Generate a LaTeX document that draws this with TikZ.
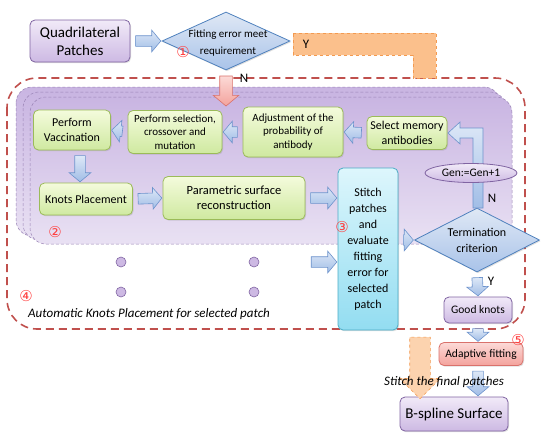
\documentclass[tikz,border=0pt]{standalone}
\usepackage{fontspec}
\setmainfont{Carlito}
\newfontfamily\circfont{DejaVu Sans}
\usetikzlibrary{calc,shapes.geometric,shapes.arrows,shadows}

\definecolor{greenedge}{HTML}{9BBB59}
\definecolor{greentop}{HTML}{F4FBDC}
\definecolor{greenbot}{HTML}{CFE9A0}
\definecolor{purpedge}{HTML}{8064A2}
\definecolor{purptop}{HTML}{F1EAF8}
\definecolor{purpbot}{HTML}{CDB9E3}
\definecolor{cyanedge}{HTML}{4BACC6}
\definecolor{cyantop}{HTML}{DDF6FC}
\definecolor{cyanbot}{HTML}{93DDF1}
\definecolor{pinkedge}{HTML}{D9716B}
\definecolor{pinktop}{HTML}{FCDAD7}
\definecolor{pinkbot}{HTML}{F3A29C}
\definecolor{arredge}{HTML}{6D93CC}
\definecolor{arrtop}{HTML}{DDE8F7}
\definecolor{arrbot}{HTML}{A1BDE6}
\definecolor{diaedge}{HTML}{4F81BD}
\definecolor{diatop}{HTML}{DFE8F5}
\definecolor{diabot}{HTML}{A9C3E9}
\definecolor{orfill}{HTML}{FBC08C}
\definecolor{oredge}{HTML}{F39A50}
\definecolor{loopred}{HTML}{C0504D}
\definecolor{numred}{HTML}{FF4040}
\definecolor{paneltop}{HTML}{C9B5E2}
\definecolor{panelbot}{HTML}{E9E1F3}

\tikzset{
  box/.style={rounded corners=5pt, line width=0.8pt, align=center, inner sep=2pt,
    drop shadow={opacity=0.25, shadow xshift=1pt, shadow yshift=-1.2pt}},
  greenbox/.style={box, draw=greenedge, top color=greentop, bottom color=greenbot,
    font=\fontsize{12}{14.5}\selectfont},
  purpbox/.style={box, draw=purpedge, top color=purptop, bottom color=purpbot,
    font=\fontsize{12}{14.5}\selectfont},
  decision/.style={diamond, draw=diaedge, line width=0.8pt, top color=diatop,
    bottom color=diabot, inner sep=0pt,
    drop shadow={opacity=0.25, shadow xshift=1pt, shadow yshift=-1.2pt}},
  decisiontext/.style={align=center, inner sep=0pt},
  blkarr/.style={single arrow, draw=arredge, line width=0.6pt, top color=arrtop,
    bottom color=arrbot, inner xsep=0pt, inner ysep=5pt, minimum width=0pt,
    single arrow head extend=5.5pt, single arrow tip angle=100},
  pinkarr/.style={blkarr, draw=pinkedge, top color=pinktop, bottom color=pinkbot,
    inner ysep=6pt, single arrow head extend=6.5pt},
  orangearr/.style={single arrow, draw=oredge, dashed, line width=0.6pt,
    fill=orfill!70, inner xsep=0pt, inner ysep=10pt, minimum width=0pt,
    single arrow head extend=10pt, single arrow tip angle=90},
  panel/.style={rounded corners=16pt, draw=purpedge!80, densely dashed,
    line width=0.5pt, top color=paneltop, bottom color=panelbot},
  circnum/.style={text=numred, font=\circfont\fontsize{15}{15}\selectfont, inner sep=0pt},
  yn/.style={font=\fontsize{13}{13}\selectfont, inner sep=0pt},
  dot/.style={circle, draw=purpedge, line width=0.6pt, fill=purpbot, minimum size=10pt,
    inner sep=0pt}
}

\newcommand{\blkarrow}[3][blkarr]{% block arrow from (#2) to (#3), 3pt gap at both ends
  \path let \p1=(#2), \p2=(#3), \n1={atan2(\y2-\y1,\x2-\x1)},
    \n2={veclen(\x2-\x1,\y2-\y1)} in
    node[#1, minimum height=\n2-6pt, rotate=\n1] at ($(\p1)!0.5!(\p2)$) {};
}

\begin{document}
\begin{tikzpicture}[x=1pt,y=-1pt]
  \useasboundingbox (0,0) rectangle (545,445);

  % outer loop and stacked patch panels
  \draw[loopred, line width=1.6pt, dash pattern=on 8pt off 5pt, rounded corners=30pt]
    (7,78) rectangle (525,329);
  \foreach \d in {0,7,14} {
    \path[panel] (16+\d,87+5*\d/7) rectangle (500+6*\d/7,236+4*\d/7);
  }

  % top row
  \node[purpbox, minimum width=100, minimum height=42,
    font=\fontsize{15}{18}\selectfont] (quad) at (80,41) {Quadrilateral\\Patches};
  \node[decision, minimum width=128, minimum height=58] (fit) at (226,41) {};
  \node[decisiontext, font=\fontsize{11}{17}\selectfont] at ($(fit)+(2,2)$)
    {Fitting error meet\\requirement};
  \node[circnum] at (183,52) {①};
  \path[fill=orfill, draw=oredge, dashed, line width=0.6pt]
    (293,33) -- (436,33) -- (436,78) -- (413,78) -- (413,55) -- (293,55) -- cycle;
  \node[yn] at (306,44) {Y};
  \node[yn] at (244,78) {N};

  % genetic loop
  \node[greenbox, minimum width=77, minimum height=40] (vac) at (72,130) {Perform\\Vaccination};
  \node[greenbox, minimum width=94, minimum height=43,
    font=\fontsize{11}{13.5}\selectfont] (sel) at (175,132) {Perform selection,\\crossover and\\mutation};
  \node[greenbox, minimum width=100, minimum height=50,
    font=\fontsize{11}{13.5}\selectfont] (adj) at (293,132) {Adjustment of the\\probability of\\antibody};
  \node[greenbox, minimum width=80, minimum height=33] (mem) at (407,133) {Select memory\\antibodies};
  \node[greenbox, minimum width=93, minimum height=32] (knot) at (86,199) {Knots Placement};
  \node[greenbox, minimum width=142, minimum height=43,
    font=\fontsize{12.5}{15}\selectfont] (param) at (234,198) {Parametric surface\\reconstruction};
  \node[box, draw=cyanedge, top color=cyantop, bottom color=cyanbot, minimum width=60,
    minimum height=162, font=\fontsize{12}{16}\selectfont] (stitch) at (368,249)
    {Stitch\\patches\\and\\evaluate\\fitting\\error for\\selected\\patch};
  \node[decision, minimum width=125, minimum height=64] (term) at (477,240) {};
  \node[decisiontext, font=\fontsize{12}{16}\selectfont] at (term) {Termination\\criterion};

  \node[circnum] at (55,232) {②};
  \node[circnum] at (342,227) {③};
  \node[circnum] at (26,296) {④};

  \node[dot] (d1) at (121,262) {};
  \node[dot] (d2) at (254,262) {};
  \node[dot] (d3) at (121,292) {};
  \node[dot] (d4) at (254,292) {};
  \coordinate (dotsout) at (306,262);

  \node[anchor=west, inner sep=0pt, font=\itshape\fontsize{13}{13}\selectfont] at (28,314)
    {Automatic Knots Placement for selected patch};

  % output column
  \node[purpbox, minimum width=68, minimum height=26,
    font=\fontsize{11.5}{13}\selectfont] (good) at (478,310) {Good knots};
  \node[box, draw=pinkedge, top color=pinktop, bottom color=pinkbot, minimum width=84,
    minimum height=23, font=\fontsize{11.5}{13}\selectfont] (adapt) at (481,354) {Adaptive fitting};
  \node[circnum] at (518,340) {⑤};
  \node[purpbox, minimum width=108, minimum height=34,
    font=\fontsize{15}{18}\selectfont] (bsp) at (454,414) {B-spline Surface};
  \coordinate (stitchout) at (420,329);

  % connectors
  \blkarrow{quad.east}{fit.west}
  \blkarrow[pinkarr]{fit.south}{$(fit.south)+(0,36)$}
  \blkarrow{mem.west}{adj.east}
  \blkarrow{adj.west}{sel.east}
  \blkarrow{sel.west}{vac.east}
  \blkarrow{$(vac.south)+(8,0)$}{$(vac.south |- knot.north)+(8,0)$}
  \blkarrow{knot.east}{param.west}
  \blkarrow{param.east}{param.east -| stitch.west}
  \blkarrow{dotsout}{dotsout -| stitch.west}
  \blkarrow{term.west -| stitch.east}{term.west}
  \blkarrow{term.south}{good.north}
  \blkarrow{good.south}{good.south |- adapt.north}
  \blkarrow{adapt.south -| good.south}{good.south |- bsp.north}
  \blkarrow[orangearr]{stitchout}{stitchout |- bsp.north}
  \path[draw=arredge, line width=0.6pt, top color=arrtop, bottom color=arrbot]
    (483,208) -- (483,128) -- (460,128) -- (460,122) -- (448,133) -- (460,144)
    -- (460,138) -- (473,138) -- (473,208) -- cycle;
  \node[ellipse, draw=purpedge, line width=0.8pt, top color=purptop, bottom color=purpbot,
    minimum width=92, minimum height=19, inner sep=0pt,
    font=\fontsize{11.5}{13}\selectfont] (gen) at (471,173) {Gen:=Gen+1};
  \node[yn] at (492,198) {N};
  \node[yn] at (491,281) {Y};

  \node[inner sep=0pt, font=\itshape\fontsize{13}{13}\selectfont] at (444,382)
    {Stitch the final patches};
\end{tikzpicture}
\end{document}
